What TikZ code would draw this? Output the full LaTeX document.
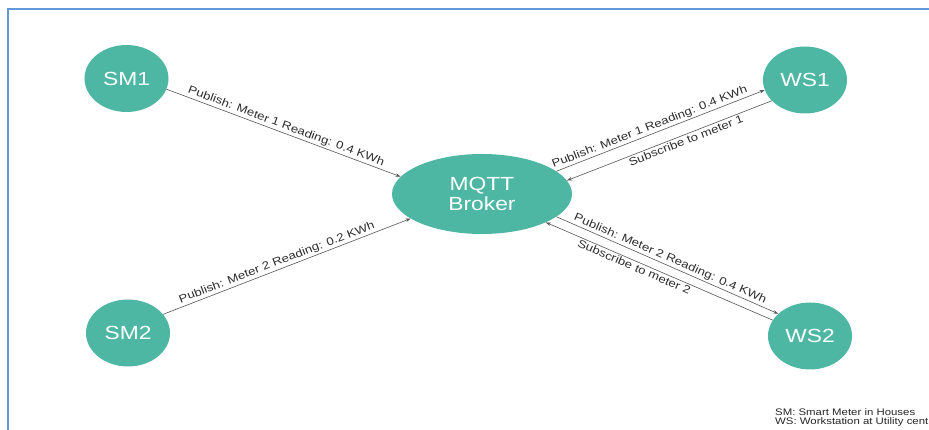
\documentclass[tikz,border=0pt]{standalone}
\usepackage{fontspec}
\setmainfont{Liberation Sans}
\newfontfamily\widefont[FakeStretch=1.2]{Liberation Sans}
\usetikzlibrary{arrows.meta,shapes.geometric}
\definecolor{tealfill}{RGB}{78,183,163}
\definecolor{frameblue}{RGB}{98,152,218}
\definecolor{edgegray}{RGB}{85,85,85}
\definecolor{labgray}{RGB}{45,45,45}
\begin{document}
\begin{tikzpicture}[x=1pt,y=1pt,
  >={Stealth[length=5pt,width=3.5pt]},
  bubble/.style={ellipse, fill=tealfill, text=white, inner sep=0pt,
    font=\widefont\fontsize{19}{20.5}\selectfont},
  smallbubble/.style={bubble, minimum width=84pt, minimum height=67pt},
  conn/.style={draw=edgegray, line width=0.6pt},
  elabel/.style={sloped, font=\widefont\fontsize{11}{12}\selectfont, text=labgray, inner sep=1.5pt},
  legtext/.style={font=\widefont\fontsize{9.5}{9.5}\selectfont, anchor=base west, inner sep=0pt, text=black!85}]
\useasboundingbox (0,0) rectangle (929,430);
\clip (0,0) rectangle (929,430);
\draw[frameblue, line width=2pt] (929,421) -- (8,421) -- (8,0);

\node[smallbubble] (SM1) at (126.5,351.5) {SM1};
\node[smallbubble] (SM2) at (128,97) {SM2};
\node[smallbubble] (WS1) at (805,350) {WS1};
\node[smallbubble] (WS2) at (810,94) {WS2};
\node[bubble, minimum width=180pt, minimum height=80pt, align=center] (B) at (482,236) {MQTT\\Broker};

\draw[conn, ->] (SM1.-15) -- node[elabel, above, pos=0.5] {Publish: Meter 1 Reading: 0.4 KWh} (B.168);
\draw[conn, ->] (SM2.28) -- node[elabel, above, pos=0.47] {Publish: Meter 2 Reading: 0.2 KWh} (B.199);
\draw[conn, ->] (B.17) -- node[elabel, above, pos=0.46] {Publish: Meter 1 Reading: 0.4 KWh} (WS1.194);
\draw[conn, <-] (B.9) -- node[elabel, below, pos=0.57] {Subscribe to meter 1} (WS1.212);
\draw[conn, ->] (B.-17.5) -- node[elabel, above, pos=0.5] {Publish: Meter 2 Reading: 0.4 KWh} (WS2.145);
\draw[conn, <-] (B.-24) -- node[elabel, below, pos=0.4] {Subscribe to meter 2} (WS2.157);

\node[legtext] (leg1) at (775,14.3) {SM: Smart Meter in Houses};
\node[legtext] (leg2) at (775,5.7) {WS: Workstation at Utility cent};
\end{tikzpicture}
\end{document}
